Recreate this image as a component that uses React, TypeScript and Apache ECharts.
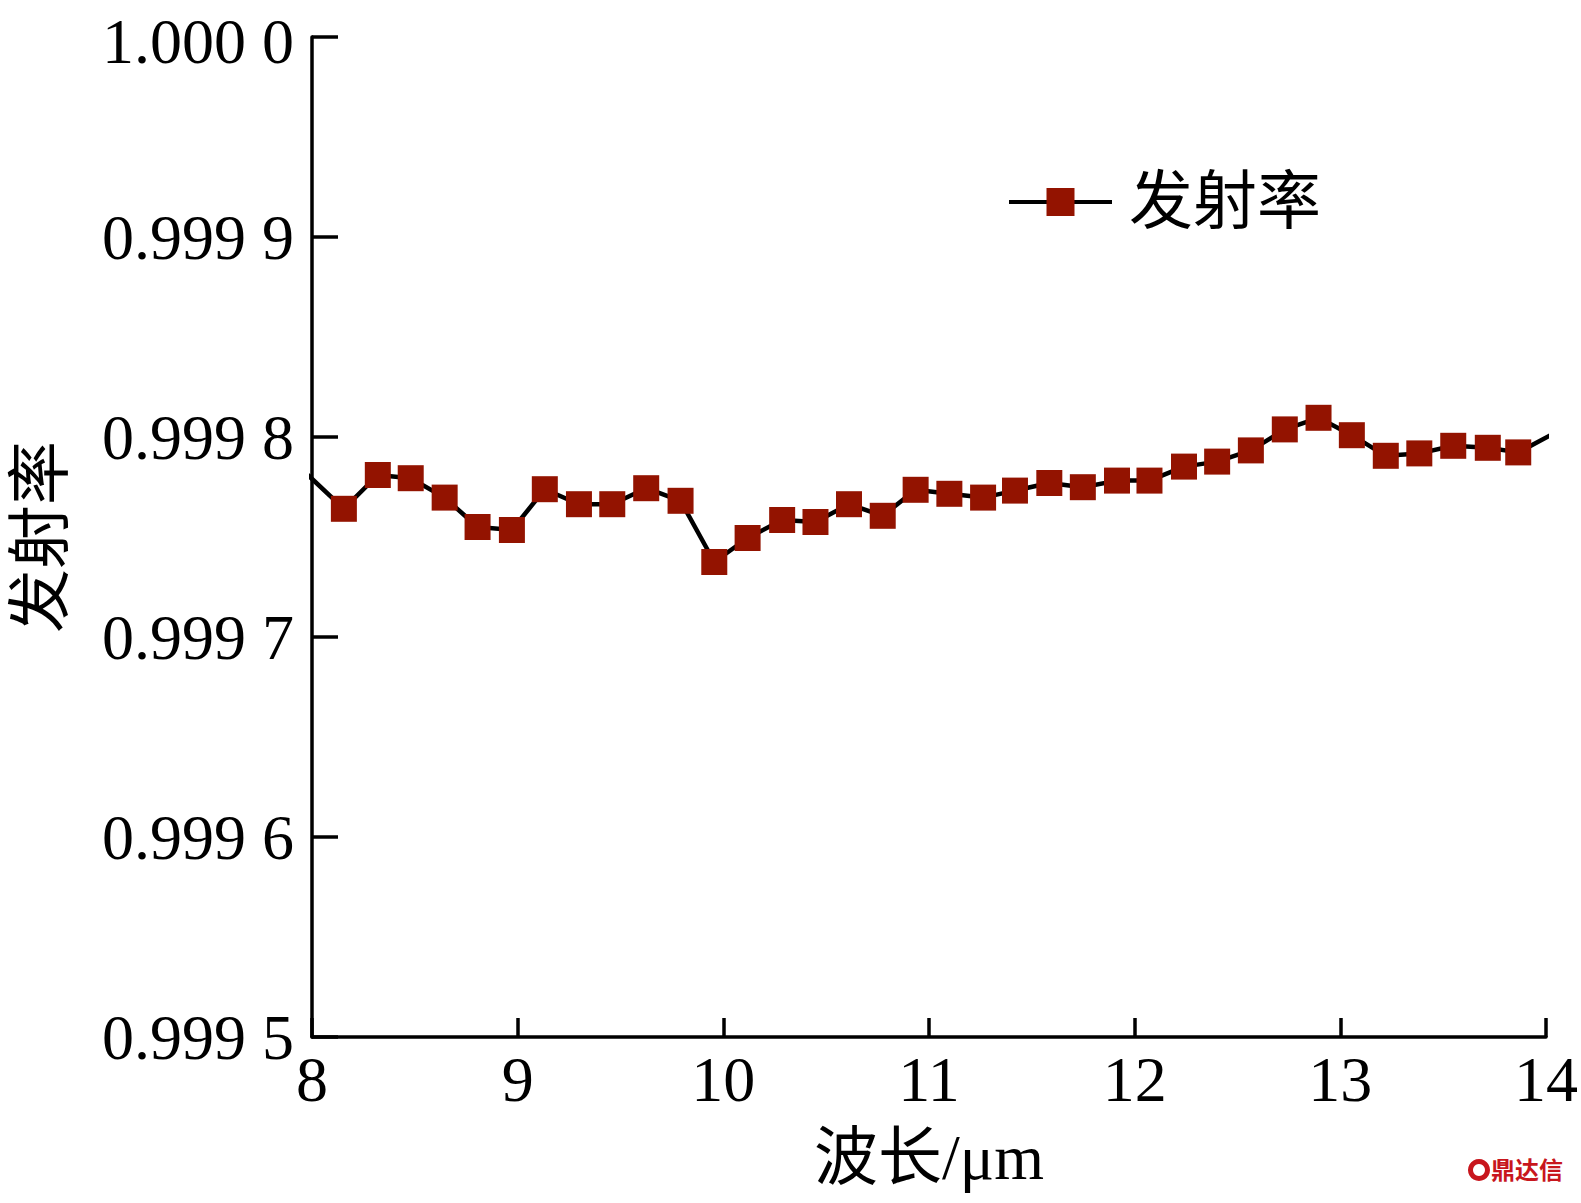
import React, { useEffect, useRef } from "react";
import * as echarts from "echarts";

// Wavelength (μm) of each sample
const wavelengths = [
  7.98, 8.155, 8.32, 8.48, 8.645, 8.805, 8.972, 9.132, 9.298, 9.46,
  9.625, 9.792, 9.956, 10.118, 10.286, 10.448, 10.611, 10.775, 10.935, 11.099,
  11.263, 11.418, 11.585, 11.748, 11.914, 12.072, 12.24, 12.401, 12.565, 12.73,
  12.894, 13.056, 13.221, 13.384, 13.549, 13.717, 13.865, 14.02,
];

// Emissivity values
const emissivity = [
  0.999781, 0.9997641, 0.999781, 0.9997794, 0.9997697, 0.999755, 0.9997535, 0.9997739, 0.9997664, 0.9997664,
  0.9997744, 0.9997681, 0.9997375, 0.9997495, 0.9997585, 0.9997575, 0.9997664, 0.9997606, 0.9997736, 0.9997716,
  0.9997697, 0.9997732, 0.999777, 0.9997749, 0.9997782, 0.9997782, 0.9997852, 0.9997877, 0.9997933, 0.9998038,
  0.9998096, 0.9998009, 0.9997906, 0.9997918, 0.9997956, 0.9997946, 0.9997923, 0.9998008,
];

const seriesName = "发射率";
const xAxisTitle = "波长/μm";
const yAxisTitle = "发射率";
const xTicks = [8, 9, 10, 11, 12, 13, 14];
const yTicks = [0.9995, 0.9996, 0.9997, 0.9998, 0.9999, 1.0];
const watermark = "鼎达信";

const FONT = "'Liberation Serif', 'Times New Roman', 'Noto Sans CJK SC', serif";
const MARKER = "#931300";

export default function App() {
  const ref = useRef<HTMLDivElement>(null);

  useEffect(() => {
    if (!ref.current) return;
    const chart = echarts.init(ref.current, undefined, { renderer: "svg" });
    const data = wavelengths.map((w, i) => [w, emissivity[i]]);
    const yMax = yTicks[yTicks.length - 1];
    chart.setOption({
      animation: false,
      backgroundColor: "#ffffff",
      textStyle: { fontFamily: FONT },
      grid: { left: 298, top: 33, right: 34, bottom: 166, containLabel: false },
      legend: {
        left: 1002,
        top: 165,
        itemWidth: 103,
        itemHeight: 35,
        lineStyle: { width: 4, color: "#000" },
        textStyle: { fontSize: 64, color: "#000", fontFamily: FONT, padding: [0, 0, 0, 12] },
        data: [seriesName],
      },
      xAxis: {
        type: "value",
        min: xTicks[0],
        max: xTicks[xTicks.length - 1],
        interval: 1,
        name: xAxisTitle,
        nameLocation: "middle",
        nameGap: 88,
        nameTextStyle: { fontSize: 64, color: "#000", fontFamily: FONT },
        axisLine: { show: true, lineStyle: { color: "#000", width: 3.5 } },
        axisTick: { show: true, inside: true, length: 19, lineStyle: { color: "#000", width: 3.5 } },
        axisLabel: { fontSize: 64, lineHeight: 60, color: "#000", margin: 12, fontFamily: FONT },
        splitLine: { show: false },
      },
      yAxis: {
        type: "value",
        min: yTicks[0],
        max: yMax,
        interval: 0.0001,
        name: yAxisTitle,
        nameLocation: "middle",
        nameRotate: 90,
        nameGap: 240,
        nameTextStyle: { fontSize: 64, color: "#000", fontFamily: FONT },
        axisLine: { show: true, lineStyle: { color: "#000", width: 3.5 } },
        axisTick: { show: true, inside: true, length: 26, lineStyle: { color: "#000", width: 3.5 } },
        axisLabel: {
          fontSize: 64,
          lineHeight: 60,
          color: "#000",
          margin: 18,
          fontFamily: FONT,
          formatter: (v: number) => {
            const s = v.toFixed(4);
            const t = s.slice(0, s.length - 1) + " " + s.slice(s.length - 1);
            return Math.abs(v - yMax) < 1e-9 ? "{t|" + t + "}" : t;
          },
          rich: {
            t: { fontSize: 64, lineHeight: 60, color: "#000", fontFamily: FONT, padding: [10, 0, 0, 0] },
          },
        },
        splitLine: { show: false },
      },
      series: [
        {
          name: seriesName,
          type: "line",
          data,
          clip: true,
          symbol: "rect",
          symbolSize: 26,
          showAllSymbol: true,
          itemStyle: { color: MARKER },
          lineStyle: { color: "#000", width: 4.5 },
          z: 2,
        },
      ],
      graphic: [
        {
          type: "ring",
          shape: { cx: 1479, cy: 1170, r: 11, r0: 6 },
          style: { fill: "#c8161d" },
        },
        {
          type: "text",
          left: 1491,
          top: 1156,
          style: { text: watermark, fill: "#c8161d", fontSize: 24, fontWeight: "bold", fontFamily: "'Noto Sans CJK SC', sans-serif" },
        },
      ],
    });
    return () => chart.dispose();
  }, []);

  return <div ref={ref} style={{ position: "absolute", left: 0, top: 0, width: 1581, height: 1203 }} />;
}
